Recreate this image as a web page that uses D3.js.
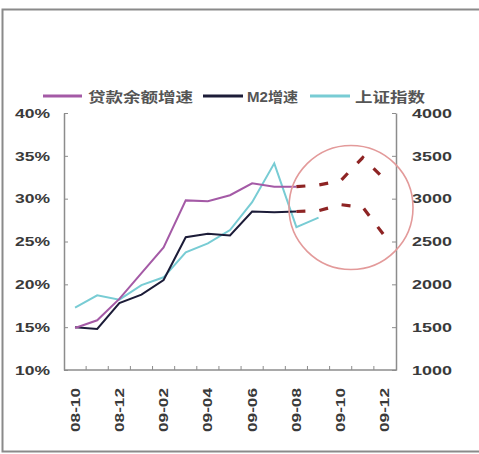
<!DOCTYPE html>
<html>
<head>
<meta charset="utf-8">
<script src="https://cdn.jsdelivr.net/npm/d3@7"></script>
<style>
  html, body { margin: 0; padding: 0; background: #fff; }
  svg { display: block; }
  text { font-family: "Liberation Sans", Arial, "Noto Sans CJK SC", sans-serif; font-weight: bold; }
</style>
</head>
<body>
<svg id="chart" width="479" height="454"></svg>
<script>
// Monthly categories, Oct 2008 – Dec 2009
const months = ["08-10","08-11","08-12","09-01","09-02","09-03","09-04","09-05","09-06","09-07","09-08","09-09","09-10","09-11","09-12"];
const tickMonths = ["08-10","08-12","09-02","09-04","09-06","09-08","09-10","09-12"];

// Loan balance growth (%), actual
const loanGrowth = [14.9, 15.8, 18.3, 21.3, 24.3, 29.8, 29.7, 30.4, 31.8, 31.4, 31.4];
// M2 growth (%), actual
const m2Growth = [15.0, 14.8, 17.8, 18.8, 20.5, 25.5, 25.9, 25.7, 28.5, 28.4, 28.5];
// Shanghai Composite, month-end close
const shIndex = [1729, 1871, 1821, 1991, 2082, 2373, 2477, 2633, 2959, 3412, 2667, 2779];

// Projected paths from 09-08 onward (dashed)
const loanProjMonths = ["09-08","09-09","09-10","09-11","09-12"];
const loanProj = [31.4, 31.6, 32.1, 34.8, 32.2];
const m2Proj = [28.5, 28.6, 29.3, 29.0, 25.6];

const leftTicks = [10, 15, 20, 25, 30, 35, 40];
const rightTicks = [1000, 1500, 2000, 2500, 3000, 3500, 4000];

const legendItems = [
  { name: "贷款余额增速", color: "#a45aa6" },
  { name: "M2增速", color: "#1c1c38" },
  { name: "上证指数", color: "#78ccd4" }
];

const svg = d3.select("#chart");
const plot = { left: 64, right: 396, top: 113, bottom: 370 };

// Outer frame
svg.append("rect")
  .attr("x", 2.5).attr("y", 9.5).attr("width", 490).attr("height", 442)
  .attr("fill", "none").attr("stroke", "#8a8a8a").attr("stroke-width", 2);

const x = d3.scaleBand().domain(months).range([plot.left, plot.right]).padding(0);
const cx = m => x(m) + x.bandwidth() / 2;
const yL = d3.scaleLinear().domain([10, 40]).range([plot.bottom, plot.top]);
const yR = d3.scaleLinear().domain([1000, 4000]).range([plot.bottom, plot.top]);

const axisColor = "#8c8c8c";
const labelColor = "#3a3a3a";

// Left axis
const gL = svg.append("g").attr("transform", `translate(${plot.left},0)`)
  .call(d3.axisLeft(yL).tickValues(leftTicks).tickSizeInner(-4).tickSizeOuter(0).tickFormat(d => d + "%"));
gL.select(".domain").attr("stroke", axisColor).attr("stroke-width", 1.5);
gL.selectAll(".tick line").attr("stroke", axisColor);
gL.selectAll(".tick text").attr("x", -14).attr("fill", labelColor)
  .style("font-size", "13px").attr("textLength", 35).attr("lengthAdjust", "spacingAndGlyphs");

// Right axis
const gR = svg.append("g").attr("transform", `translate(${plot.right},0)`)
  .call(d3.axisRight(yR).tickValues(rightTicks).tickSizeInner(-4).tickSizeOuter(0).tickFormat(d3.format("d")));
gR.select(".domain").attr("stroke", axisColor).attr("stroke-width", 1.5);
gR.selectAll(".tick line").attr("stroke", axisColor);
gR.selectAll(".tick text").attr("x", 16).attr("fill", labelColor)
  .style("font-size", "13px").attr("textLength", 40).attr("lengthAdjust", "spacingAndGlyphs");

// Bottom axis: ticks between categories, labels every other month
const gB = svg.append("g").attr("transform", `translate(0,${plot.bottom})`);
gB.append("line").attr("x1", plot.left).attr("x2", plot.right + 0.75)
  .attr("stroke", axisColor).attr("stroke-width", 1.5);
gB.selectAll("line.tk").data(months.slice(1)).join("line").attr("class", "tk")
  .attr("x1", d => x(d)).attr("x2", d => x(d)).attr("y1", 0).attr("y2", -4)
  .attr("stroke", axisColor);
gB.selectAll("text").data(tickMonths).join("text")
  .attr("transform", d => `translate(${cx(d)},18) rotate(-90)`)
  .attr("text-anchor", "end").attr("dy", "0.35em")
  .attr("fill", labelColor).style("font-size", "13px")
  .attr("textLength", 44).attr("lengthAdjust", "spacingAndGlyphs")
  .text(d => d);

// Series lines
const lineL = d3.line().x((d, i) => cx(months[i])).y(d => yL(d));
const lineR = d3.line().x((d, i) => cx(months[i])).y(d => yR(d));
const lineP = d3.line().x((d, i) => cx(loanProjMonths[i])).y(d => yL(d));

svg.append("path").datum(shIndex).attr("d", lineR)
  .attr("fill", "none").attr("stroke", legendItems[2].color).attr("stroke-width", 2);
svg.append("path").datum(m2Growth).attr("d", lineL)
  .attr("fill", "none").attr("stroke", legendItems[1].color).attr("stroke-width", 2);
svg.append("path").datum(loanGrowth).attr("d", lineL)
  .attr("fill", "none").attr("stroke", legendItems[0].color).attr("stroke-width", 2);

// Projection: dashed paths inside a highlight circle
[loanProj, m2Proj].forEach(vals => {
  svg.append("path").datum(vals).attr("d", lineP)
    .attr("fill", "none").attr("stroke", "#8e2424").attr("stroke-width", 3.2)
    .attr("stroke-dasharray", "9,14").attr("stroke-linecap", "butt");
});
svg.append("circle").attr("cx", 351).attr("cy", 207.5).attr("r", 62)
  .attr("fill", "none").attr("stroke", "#e39a9a").attr("stroke-width", 1.6);

// Legend
const legendLayout = [
  { x0: 43, x1: 82, tx: 88, tw: 105 },
  { x0: 203, x1: 243, tx: 247, tw: 51 },
  { x0: 310, x1: 350, tx: 355, tw: 70 }
];
const lg = svg.append("g");
legendItems.forEach((it, i) => {
  const L = legendLayout[i];
  lg.append("line").attr("x1", L.x0).attr("x2", L.x1).attr("y1", 96).attr("y2", 96)
    .attr("stroke", it.color).attr("stroke-width", 3);
  lg.append("text").attr("x", L.tx).attr("y", 97).attr("dy", "0.35em")
    .attr("fill", "#555").style("font-size", "14px")
    .attr("textLength", L.tw).attr("lengthAdjust", "spacingAndGlyphs")
    .text(it.name);
});
</script>
</body>
</html>
